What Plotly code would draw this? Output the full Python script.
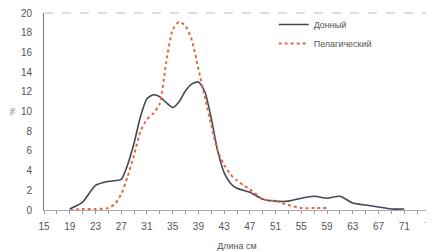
import plotly.graph_objects as go

lengths = [19, 21, 23, 25, 27, 28, 29, 30, 31, 32, 33, 34, 35, 36, 37, 38, 39, 40, 41, 42, 43, 44, 45, 46, 47,
           49, 51, 53, 55, 57, 59, 61, 63, 65, 67, 69, 71]
donny = [0.1, 0.8, 2.5, 2.9, 3.1, 4.6, 6.8, 9.5, 11.3, 11.7, 11.5, 10.9, 10.4, 11.0, 12.1, 12.8, 13.0, 12.0, 9.3, 6.0, 3.8, 2.7, 2.2, 2.0, 1.8,
         1.1, 0.9, 0.9, 1.2, 1.4, 1.2, 1.4, 0.7, 0.5, 0.3, 0.1, 0.1]
pelag_len = [19, 21, 23, 25, 26, 27, 28, 29, 30, 31, 32, 33, 34, 35, 36, 37, 38, 39, 40, 41, 42, 43, 44, 45, 46, 47,
             49, 51, 53, 55, 57, 59]
pelag = [0.0, 0.1, 0.1, 0.2, 0.6, 1.6, 3.4, 5.6, 8.0, 9.2, 9.8, 10.8, 15.0, 18.3, 19.1, 18.7, 17.2, 14.3, 11.5, 8.6, 6.0, 4.6, 3.6, 3.0, 2.5, 2.1,
         1.1, 0.9, 0.5, 0.2, 0.2, 0.2]
x_ticks = list(range(15, 76, 4))
y_ticks = list(range(0, 21, 2))

font = dict(family="Liberation Sans, Arial, sans-serif", size=10, color="#555555")

fig = go.Figure()
fig.add_trace(go.Scatter(x=lengths, y=donny, mode="lines", name="Донный",
                         line=dict(color="#434756", width=1.6, shape="spline", smoothing=0.6)))
fig.add_trace(go.Scatter(x=pelag_len, y=pelag, mode="lines", name="Пелагический",
                         line=dict(color="#df6a45", width=2, dash="dot", shape="spline", smoothing=0.6)))

fig.update_layout(
    width=426, height=243,
    margin=dict(l=36, r=4, t=5, b=41, autoexpand=False),
    paper_bgcolor="white", plot_bgcolor="white",
    font=font,
    showlegend=True,
    legend=dict(x=0.595, y=1.015, xanchor="left", yanchor="top", bgcolor="rgba(0,0,0,0)",
                font=dict(family="Liberation Sans, Arial, sans-serif", size=9, color="#555555"),
                tracegroupgap=0, itemwidth=30),
    xaxis=dict(range=[15, 75], tickvals=x_ticks, ticktext=[str(v) for v in x_ticks],
               showgrid=False, zeroline=False, showline=True, linecolor="#aaaaaa", linewidth=1,
               ticks="outside", ticklen=3, tickcolor="#999999", ticklabelstandoff=4,
               ticklabeloverflow="allow", automargin=False,
               minor=dict(ticks="outside", ticklen=3, tickcolor="#999999", dtick=2, tick0=15),
               title=dict(text="Длина см", standoff=11, font=dict(size=9, color="#555555"))),
    yaxis=dict(range=[0, 20], tickvals=y_ticks, showgrid=False, zeroline=False, automargin=False,
               showline=True, linecolor="#777777", linewidth=1, ticks="", ticklabelstandoff=9,
               ticklabeloverflow="allow",
               title=dict(text="%", standoff=10, font=dict(size=8, color="#777777"))),
)

# top dashed border and right border of plot area
fig.add_shape(type="line", xref="paper", yref="paper", x0=0, x1=1, y0=1, y1=1,
              line=dict(color="#bbbbbb", width=1, dash="dash"))
fig.add_shape(type="line", xref="paper", yref="paper", x0=1, x1=1, y0=0, y1=1,
              line=dict(color="#cccccc", width=1))

fig.write_html("out.html")
